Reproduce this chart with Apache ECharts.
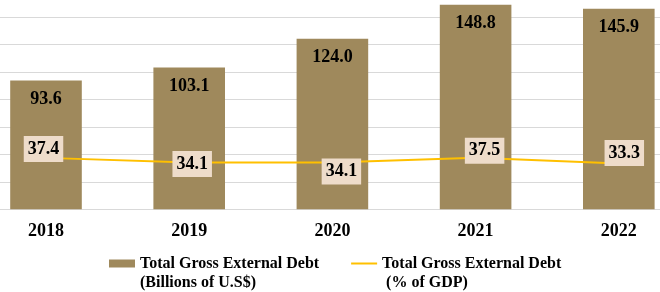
<!DOCTYPE html>
<html>
<head>
<meta charset="utf-8">
<script src="https://cdn.jsdelivr.net/npm/echarts@6/dist/echarts.min.js"></script>
<style>
    html, body { margin: 0; padding: 0; background: #fff; }
    #main { width: 660px; height: 292px; }
</style>
</head>
<body>
<div id="main"></div>
<script>
var years = ['2018', '2019', '2020', '2021', '2022'];
var debtBillions = [93.6, 103.1, 124.0, 148.8, 145.9];
var debtPctGdp = [37.4, 34.1, 34.1, 37.5, 33.3];
// hand placed label boxes, like in the original
var pctLabelOffsets = [[-2.5, -9], [3, 1.5], [9, 9], [9, -7], [5.5, -10.5]];

var fontName = '"Liberation Serif", "Times New Roman", serif';
var barName = 'Total Gross External Debt\n(Billions of U.S$)';
var lineName = 'Total Gross External Debt\n (% of GDP)';

var chart = echarts.init(document.getElementById('main'));

var lineData = debtPctGdp.map(function (v, i) {
    return {value: v, label: {offset: pctLabelOffsets[i]}};
});

var option = {
    animation: false,
    textStyle: {fontFamily: fontName},
    grid: {
        left: -25.6,
        right: -30.4,
        top: -10.7,
        bottom: 82.7,
        containLabel: false,
        outerBoundsMode: 'none'
    },
    legend: {
        left: 109,
        top: 235,
        padding: 0,
        itemGap: 32,
        itemWidth: 26,
        itemHeight: 8,
        data: [
            {name: barName, icon: 'rect'},
            {name: lineName, icon: 'path://M0,0 L26,0 L26,2 L0,2 Z', itemHeight: 2}
        ],
        // blank first line so the icon sits next to the first text line
        formatter: function (name) { return ' \n' + name; },
        textStyle: {
            fontFamily: fontName,
            fontSize: 16,
            fontWeight: 'bold',
            color: '#000',
            lineHeight: 19
        }
    },
    xAxis: {
        type: 'category',
        data: years,
        axisLine: {lineStyle: {color: '#d9d9d9', width: 1}},
        axisTick: {show: false},
        axisLabel: {
            margin: 13,
            fontFamily: fontName,
            fontSize: 18,
            fontWeight: 'bold',
            color: '#000'
        }
    },
    yAxis: {
        type: 'value',
        min: 0,
        max: 160,
        interval: 20,
        axisLabel: {show: false},
        axisLine: {show: false},
        axisTick: {show: false},
        splitLine: {lineStyle: {color: '#d9d9d9', width: 1}}
    },
    series: [
        {
            name: barName,
            type: 'bar',
            data: debtBillions,
            barWidth: '50%',
            itemStyle: {color: '#9f895c'},
            label: {
                show: true,
                position: 'insideTop',
                distance: 10,
                fontFamily: fontName,
                fontSize: 18,
                fontWeight: 'bold',
                color: '#000',
                formatter: function (p) { return p.value.toFixed(1); }
            }
        },
        {
            name: lineName,
            type: 'line',
            data: lineData,
            symbol: 'circle',
            symbolSize: 0,
            showSymbol: true,
            lineStyle: {color: '#ffc000', width: 2},
            itemStyle: {color: '#ffc000'},
            z: 5,
            label: {
                show: true,
                position: 'inside',
                fontFamily: fontName,
                fontSize: 18,
                fontWeight: 'bold',
                color: '#000',
                lineHeight: 18,
                backgroundColor: '#eedcca',
                padding: [4, 4, 4, 4],
                formatter: function (p) { return Number(p.value).toFixed(1); }
            }
        }
    ]
};

chart.setOption(option);
</script>
</body>
</html>
